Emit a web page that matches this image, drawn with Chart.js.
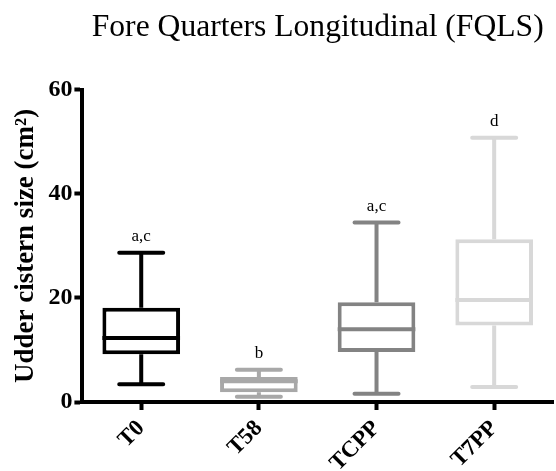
<!DOCTYPE html>
<html>
<head>
<meta charset="utf-8">
<script src="https://cdn.jsdelivr.net/npm/chart.js@4.4.1/dist/chart.umd.min.js"></script>
<style>
  html, body { margin: 0; padding: 0; background: #fff; }
  #wrap { width: 556px; height: 471px; }
</style>
</head>
<body>
<div id="wrap"><canvas id="boxChart"></canvas></div>
<script>
// Valores (cm²)
const groups = ['T0', 'T58', 'TCPP', 'T7PP'];
const whiskerMin = [3.4, 1.0, 1.6, 2.9];
const q1 = [9.2, 1.9, 9.6, 14.7];
const median = [12.3, 4.0, 14.0, 19.6];
const q3 = [18.1, 4.8, 19.2, 31.3];
const whiskerMax = [28.7, 6.2, 34.5, 50.8];
const letters = ['a,c', 'b', 'a,c', 'd'];
const yTicks = [0, 20, 40, 60];

const colors = ['#000000', '#a8a8a8', '#838383', '#d8d8d8'];
const serif = "'Liberation Serif', 'DejaVu Serif', serif";

// desenha mediana, bigodes e letras sobre as caixas
const whiskerPlugin = {
  id: 'whiskers',
  afterDatasetsDraw(chart) {
    const { ctx, scales } = chart;
    const y = scales.y;
    const meta = chart.getDatasetMeta(0);
    ctx.save();
    ctx.lineWidth = 4;
    groups.forEach((g, i) => {
      const bar = meta.data[i];
      const cx = bar.x;
      const half = bar.width / 2;
      const capHalf = 22;
      const yMax = y.getPixelForValue(whiskerMax[i]);
      const yMin = y.getPixelForValue(whiskerMin[i]);
      const yQ1 = y.getPixelForValue(q1[i]);
      const yQ3 = y.getPixelForValue(q3[i]);
      const yMed = y.getPixelForValue(median[i]);
      ctx.strokeStyle = colors[i];

      ctx.lineCap = 'butt';
      ctx.beginPath();
      ctx.moveTo(cx - half, yMed); ctx.lineTo(cx + half, yMed);
      ctx.moveTo(cx, yQ3); ctx.lineTo(cx, yMax);
      ctx.moveTo(cx, yQ1); ctx.lineTo(cx, yMin);
      ctx.stroke();

      ctx.lineCap = 'round';
      ctx.beginPath();
      ctx.moveTo(cx - capHalf, yMax); ctx.lineTo(cx + capHalf, yMax);
      ctx.moveTo(cx - capHalf, yMin); ctx.lineTo(cx + capHalf, yMin);
      ctx.stroke();

      ctx.fillStyle = '#000';
      ctx.font = '17px ' + serif;
      ctx.textAlign = 'center';
      ctx.textBaseline = 'alphabetic';
      ctx.fillText(letters[i], cx, yMax - 12);
    });
    ctx.restore();
  }
};

new Chart(document.getElementById('boxChart'), {
  type: 'bar',
  data: {
    labels: groups,
    datasets: [{
      data: groups.map((g, i) => [q1[i], q3[i]]),
      backgroundColor: '#ffffff',
      borderColor: colors,
      borderWidth: 4,
      borderSkipped: false,
      barPercentage: 0.66,
      categoryPercentage: 1
    }]
  },
  options: {
    responsive: true,
    maintainAspectRatio: false,
    animation: false,
    layout: { padding: { left: 10, right: 3, top: 0, bottom: 0 } },
    plugins: {
      legend: { display: false },
      tooltip: { enabled: false },
      title: {
        display: true,
        text: 'Fore Quarters Longitudinal (FQLS)',
        color: '#000',
        fullSize: false,
        font: { family: serif, size: 31.6, weight: 'normal' },
        padding: { top: 9, bottom: 43 }
      }
    },
    scales: {
      x: {
        offset: true,
        afterFit: s => { s.height -= 11; },
        grid: { display: true, drawOnChartArea: false, offset: false, tickLength: 8, tickWidth: 4, tickColor: '#000' },
        border: { display: true, width: 4, color: '#000' },
        ticks: {
          color: '#000',
          maxRotation: 45, minRotation: 45,
          padding: 5,
          font: { family: serif, size: 23, weight: 'bold' }
        }
      },
      y: {
        min: 0, max: 60,
        afterBuildTicks: s => { s.ticks = yTicks.map(v => ({ value: v })); },
        grid: { display: true, drawOnChartArea: false, tickLength: 8, tickWidth: 4, tickColor: '#000' },
        border: { display: true, width: 4, color: '#000' },
        ticks: {
          color: '#000',
          padding: 2,
          font: { family: serif, size: 24, weight: 'bold' }
        },
        title: {
          display: true,
          text: 'Udder cistern size (cm²)',
          color: '#000',
          padding: { top: 0, bottom: 4 },
          font: { family: serif, size: 27, weight: 'bold' }
        }
      }
    }
  },
  plugins: [whiskerPlugin]
});
</script>
</body>
</html>
